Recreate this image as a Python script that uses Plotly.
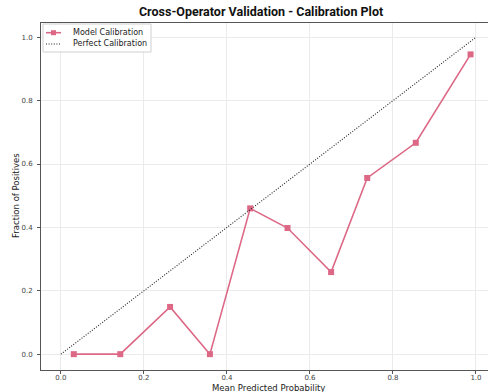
import plotly.graph_objects as go

mean_pred = [0.031, 0.143, 0.263, 0.359, 0.456, 0.546, 0.651, 0.738, 0.855, 0.987]
frac_pos = [0.0, 0.0, 0.149, 0.0, 0.46, 0.398, 0.259, 0.556, 0.667, 0.946]
perfect = [0.0, 1.0]
tick_vals = [0.0, 0.2, 0.4, 0.6, 0.8, 1.0]
tick_text = ["0.0", "0.2", "0.4", "0.6", "0.8", "1.0"]
series_names = ["Model Calibration", "Perfect Calibration"]

pink = "#dc6886"
W, H = 488, 392
L, R, T, B = 41, 0, 23, 22
pw, ph = W - L - R, H - T - B


def px_x(p):
    return (p - L) / pw


def px_y(p):
    return (H - B - p) / ph


fig = go.Figure()
fig.add_trace(go.Scatter(
    x=mean_pred, y=frac_pos, mode="lines+markers", name=series_names[0],
    line=dict(color=pink, width=1.6),
    marker=dict(symbol="square", size=6, color=pink),
    showlegend=False,
))
fig.add_trace(go.Scatter(
    x=perfect, y=perfect, mode="lines", name=series_names[1],
    line=dict(color="#222222", width=1.1, dash="1px,1.6px"),
    showlegend=False,
))

tickfont = dict(family="DejaVu Sans", size=7, color="#444444")
axis_common = dict(
    showgrid=True, gridcolor="#ebebeb", gridwidth=1,
    zeroline=False, showline=True, linecolor="#555555", linewidth=1,
    mirror=True, ticks="outside", ticklen=3, tickcolor="#555555",
    tickvals=tick_vals, ticktext=tick_text, tickfont=tickfont,
    automargin=False,
)

shapes = [
    dict(type="rect", xref="paper", yref="paper",
         x0=px_x(43), x1=px_x(151), y0=px_y(52), y1=px_y(24),
         line=dict(color="#d0d0d0", width=1), fillcolor="rgba(255,255,255,0.9)", layer="above"),
    dict(type="line", xref="paper", yref="paper",
         x0=px_x(46), x1=px_x(61), y0=px_y(32.7), y1=px_y(32.7),
         line=dict(color=pink, width=1.6), layer="above"),
    dict(type="rect", xref="paper", yref="paper",
         x0=px_x(51), x1=px_x(56), y0=px_y(35.2), y1=px_y(30.2),
         line=dict(color=pink, width=0), fillcolor=pink, layer="above"),
    dict(type="line", xref="paper", yref="paper",
         x0=px_x(46), x1=px_x(61), y0=px_y(44), y1=px_y(44),
         line=dict(color="#222222", width=1.1, dash="1px,1.6px"), layer="above"),
]

legfont = dict(family="DejaVu Sans", size=8, color="#222222")
annotations = [
    dict(text=series_names[0], xref="paper", yref="paper", x=px_x(71), y=px_y(32.7),
         xanchor="left", yanchor="middle", showarrow=False, font=legfont),
    dict(text=series_names[1], xref="paper", yref="paper", x=px_x(71), y=px_y(44),
         xanchor="left", yanchor="middle", showarrow=False, font=legfont),
    dict(text="Mean Predicted Probability", xref="paper", yref="paper",
         x=px_x(268), y=px_y(387.5), xanchor="center", yanchor="middle", showarrow=False,
         font=dict(family="DejaVu Sans", size=8.5, color="#222222")),
    dict(text="Fraction of Positives", xref="paper", yref="paper",
         x=px_x(16), y=px_y(196), xanchor="center", yanchor="middle", showarrow=False,
         textangle=-90, font=dict(family="DejaVu Sans", size=8.5, color="#222222")),
]

fig.update_layout(
    width=W, height=H,
    margin=dict(l=L, r=R, t=T, b=B),
    paper_bgcolor="white", plot_bgcolor="white",
    title=dict(text="<b>Cross-Operator Validation - Calibration Plot</b>",
               x=0.535, xanchor="center", y=0.97, yanchor="middle",
               font=dict(family="Roboto", size=12.5, color="#111111")),
    xaxis=dict(range=[-0.048, 1.029], ticklabelstandoff=-2, **axis_common),
    yaxis=dict(range=[-0.05, 1.045], ticklabelstandoff=3, **axis_common),
    shapes=shapes,
    annotations=annotations,
    showlegend=False,
)

fig.write_html(
    "out.html",
    config={"displayModeBar": False},
    post_script="document.body.style.margin='0';document.body.style.overflow='hidden';",
)
